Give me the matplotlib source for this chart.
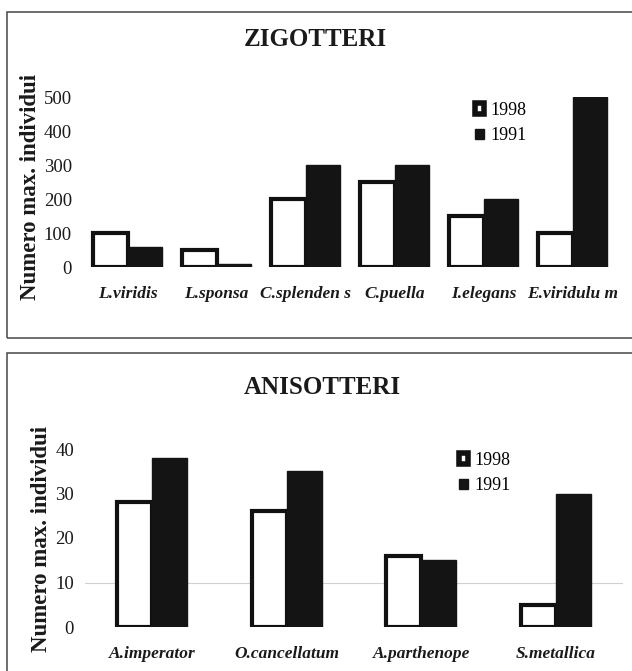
import matplotlib
matplotlib.use("Agg")
import matplotlib.pyplot as plt
from matplotlib.patches import Patch, Rectangle

plt.rcParams['font.family'] = ['Liberation Serif', 'DejaVu Serif']

# zigotteri
zig_species = ["L.viridis", "L.sponsa", "C.splenden s", "C.puella", "I.elegans", "E.viridulu m"]
zig_1998 = [100, 50, 200, 250, 150, 100]
zig_1991 = [60, 10, 300, 300, 200, 500]
zig_ticks = [0, 100, 200, 300, 400, 500]

# anisotteri
ani_species = ["A.imperator", "O.cancellatum", "A.parthenope", "S.metallica"]
ani_1998 = [28, 26, 16, 5]
ani_1991 = [38, 35, 15, 30]
ani_ticks = [0, 10, 20, 30, 40]

years = ["1998", "1991"]

W, H = 632, 671
fig = plt.figure(figsize=(W/100, H/100), dpi=100)

def fx(px):
	return px / W

def fy(py):
	return 1 - py / H

# panel frames (right side runs off the picture)
for top, bot in [(12, 338), (353, 700)]:
	fig.patches.append(Rectangle((fx(7), fy(bot)), 1.2, fy(top) - fy(bot),
		transform=fig.transFigure, fill=False, edgecolor="#555555", linewidth=1.2))

def panel(rect, names, v98, v91, ticks, width, title, title_xy, ylab_xy, leg_xy, lab_pad):
	ax = fig.add_axes(rect)
	xs = list(range(len(names)))
	ax.bar([x - width/2 for x in xs], v98, width, facecolor="white",
		edgecolor="#111111", linewidth=3, zorder=2)
	ax.bar([x + width/2 for x in xs], v91, width, facecolor="#141414",
		edgecolor="#141414", linewidth=1, zorder=3)
	ax.set_xlim(-0.5, len(names) - 0.5)
	ax.set_ylim(0, ticks[-1])
	ax.set_yticks(ticks)
	ax.set_xticks(xs)
	ax.set_xticklabels(names, fontsize=12.5, fontweight="bold", fontstyle="italic", color="#1a1a1a")
	ax.tick_params(axis="y", length=0, pad=8, labelsize=13.5, labelcolor="#1a1a1a")
	ax.tick_params(axis="x", length=0, pad=lab_pad)
	for s in ax.spines.values():
		s.set_visible(False)
	fig.text(fx(title_xy[0]), fy(title_xy[1]), title, ha="center", va="center",
		fontsize=18, fontweight="bold", color="#1a1a1a")
	fig.text(fx(ylab_xy[0]), fy(ylab_xy[1]), "Numero max. individui", rotation=90,
		ha="center", va="center", fontsize=16.5, fontweight="bold", color="#1a1a1a")
	handles = [Patch(facecolor="white", edgecolor="#111111", linewidth=4),
		Patch(facecolor="#141414", edgecolor="#141414")]
	ax.legend(handles, years, loc="upper left", bbox_to_anchor=(fx(leg_xy[0]), fy(leg_xy[1])),
		bbox_transform=fig.transFigure, frameon=False, fontsize=13, handlelength=0.5,
		handleheight=0.5, handletextpad=0.35, labelspacing=0.45, borderpad=0, borderaxespad=0)
	return ax

ax1 = panel([fx(83), fy(267), fx(617) - fx(83), fy(97) - fy(267)],
	zig_species, zig_1998, zig_1991, zig_ticks, 0.388,
	"ZIGOTTERI", (315, 39), (30, 187), (475, 102), 14)

ax2 = panel([fx(85), fy(627), fx(623) - fx(85), fy(449) - fy(627)],
	ani_species, ani_1998, ani_1991, ani_ticks, 0.26,
	"ANISOTTERI", (322, 387), (42, 539), (459, 452), 14)
ax2.axhline(10, color="#d0d0d0", linewidth=0.8, zorder=1)

fig.savefig("out.png", dpi=100)
